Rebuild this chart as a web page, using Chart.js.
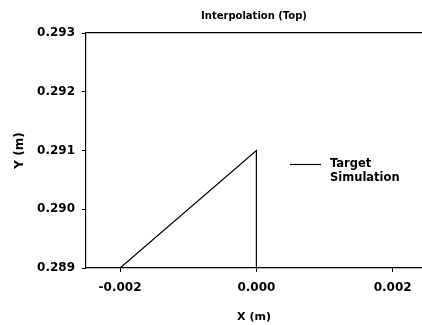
<!DOCTYPE html>
<html>
<head>
<meta charset="utf-8">
<script src="https://cdn.jsdelivr.net/npm/chart.js@4"></script>
<style>
html, body { margin: 0; padding: 0; background: #fff; }
#wrap { width: 422px; height: 325px; }
</style>
</head>
<body>
<div id="wrap"><canvas id="interp"></canvas></div>
<script>
// values
var target_x = [-0.002, 0.000, 0.000];
var target_y = [0.289, 0.291, 0.289];
var sim_x = [];
var sim_y = [];
var x_ticks = [-0.002, 0.000, 0.002];
var y_ticks = [0.289, 0.290, 0.291, 0.292, 0.293];

function to_points(xs, ys)
{
    var pts = [];
    for (let i = 0; i < xs.length; i++)
	pts.push({ x: xs[i], y: ys[i] });
    return pts;
}

// legend sits inside the plot, to the right of the peak
var side_legend = {
    id: 'side_legend',
    afterDraw: function(chart) {
	var ctx = chart.ctx;
	var x0 = 290, y0 = 164;
	ctx.save();
	ctx.font = 'bold 11.5px "DejaVu Sans"';
	ctx.textBaseline = 'middle';
	ctx.fillStyle = '#000';
	chart.data.datasets.forEach(function(ds, i) {
	    var y = y0 + i * 14;
	    if (ds.borderWidth) {
		ctx.strokeStyle = ds.borderColor;
		ctx.lineWidth = ds.borderWidth;
		ctx.beginPath();
		ctx.moveTo(x0, y + 0.5);
		ctx.lineTo(x0 + 31, y + 0.5);
		ctx.stroke();
	    }
	    ctx.fillText(ds.label, x0 + 40, y);
	});
	ctx.restore();
    }
};

const ctx = document.getElementById('interp');

new Chart(ctx, {
    type: 'scatter',
    data: {
	datasets: [{
	    label: 'Target',
	    data: to_points(target_x, target_y),
	    showLine: true,
	    borderColor: '#000',
	    borderWidth: 1.2,
	    pointRadius: 0,
	    tension: 0
	}, {
	    label: 'Simulation',
	    data: to_points(sim_x, sim_y),
	    showLine: false,
	    borderColor: '#000',
	    borderWidth: 0,
	    pointRadius: 0
	}]
    },
    options: {
	responsive: true,
	maintainAspectRatio: false,
	animation: false,
	layout: { padding: 0 },
	plugins: {
	    legend: { display: false },
	    tooltip: { enabled: false }
	},
	scales: {
	    x: {
		type: 'linear',
		position: 'bottom',
		min: -0.0025,
		max: 0.00243,
		afterBuildTicks: function(scale) {
		    scale.ticks = x_ticks.map(function(v) { return { value: v }; });
		},
		afterFit: function(scale) { scale.height = 57; },
		ticks: {
		    color: '#000',
		    padding: 9,
		    maxRotation: 0,
		    font: { family: 'DejaVu Sans', size: 12, weight: 'bold' },
		    callback: function(v) { return v.toFixed(3); }
		},
		grid: { drawOnChartArea: false, tickLength: 4, color: '#000' },
		border: { display: true, color: '#000', width: 1.2 },
		title: {
		    display: true,
		    text: 'X (m)',
		    color: '#000',
		    font: { family: 'DejaVu Sans', size: 11, weight: 'bold' },
		    padding: { top: 0, bottom: 1 }
		}
	    },
	    // top frame line, its title is the chart title centred over the plot
	    xTop: {
		type: 'linear',
		position: 'top',
		min: -0.0025,
		max: 0.00243,
		afterFit: function(scale) { scale.height = 33; },
		ticks: { display: false },
		grid: { display: false },
		border: { display: true, color: '#000', width: 1.2 },
		title: {
		    display: true,
		    text: 'Interpolation (Top)',
		    color: '#000',
		    font: { family: 'DejaVu Sans', size: 10, weight: 'bold' },
		    padding: { top: 10, bottom: 0 }
		}
	    },
	    y: {
		type: 'linear',
		min: 0.289,
		max: 0.293,
		afterBuildTicks: function(scale) {
		    scale.ticks = y_ticks.map(function(v) { return { value: v }; });
		},
		afterFit: function(scale) { scale.width = 86; },
		ticks: {
		    color: '#000',
		    padding: 7,
		    font: { family: 'DejaVu Sans', size: 12, weight: 'bold' },
		    callback: function(v) { return v.toFixed(3); }
		},
		grid: { drawOnChartArea: false, tickLength: 4, color: '#000' },
		border: { display: true, color: '#000', width: 1.2 },
		title: {
		    display: true,
		    text: 'Y (m)',
		    color: '#000',
		    font: { family: 'DejaVu Sans', size: 12, weight: 'bold' },
		    padding: { top: 13, bottom: 0 }
		}
	    }
	}
    },
    plugins: [side_legend]
});
</script>
</body>
</html>
